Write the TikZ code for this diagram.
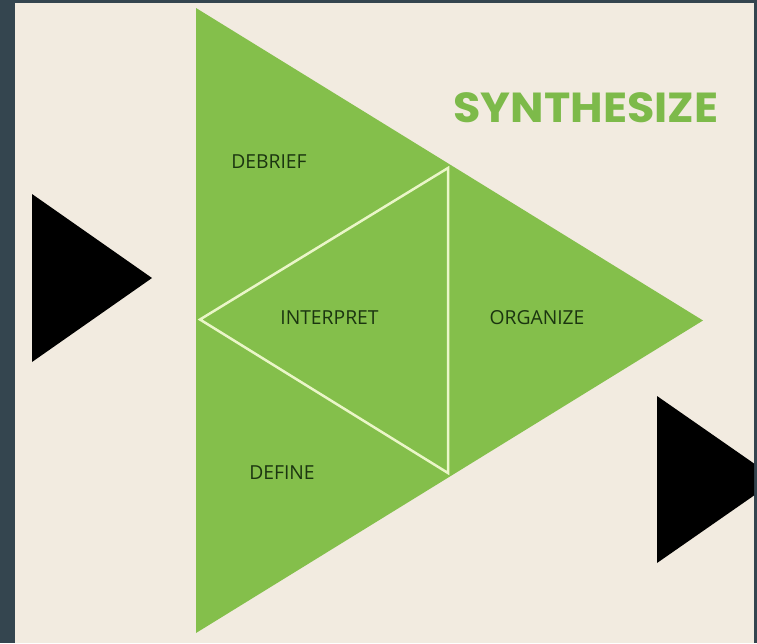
\documentclass[tikz,border=0pt]{standalone}
\usepackage{fontspec}
\setmainfont{Open Sans}
\newfontfamily\headfont{Poppins}
\definecolor{frame}{HTML}{34454F}
\definecolor{cream}{HTML}{F2EBE0}
\definecolor{leaf}{HTML}{84BF4B}
\definecolor{headgreen}{HTML}{7DBA4A}
\definecolor{darkleaf}{HTML}{1B3510}
\definecolor{paleline}{HTML}{EAF6C8}
\tikzset{
  lbl/.style={text=darkleaf, font=\fontsize{19.3}{22}\selectfont, inner sep=0pt},
  head/.style={text=headgreen, font=\headfont\bfseries\fontsize{42}{46}\selectfont, inner sep=0pt},
  inner/.style={draw=paleline, line width=2.5pt, line join=miter}
}
\begin{document}
\begin{tikzpicture}[x=1pt,y=-1pt]
\fill[frame] (0,0) rectangle (757,643);
\useasboundingbox (0,0) rectangle (757,643);
\fill[cream] (15,3) rectangle (754,643);
% black arrows
\fill[black] (32,194) -- (152,278) -- (32,362) -- cycle;
\begin{scope}
\clip (15,3) rectangle (754,643);
\fill[black] (657,396) -- (777,479.5) -- (657,563) -- cycle;
\end{scope}
% big green triangle
\fill[leaf] (196,8) -- (703,320.5) -- (196,633) -- cycle;
% inner triangle
\draw[inner] (200,319.5) -- (448,168) -- (448,473) -- cycle;
% labels
\node[head] (syn) at (586,107.5) {\scalebox{1.06}[1]{SYNTHESIZE}};
\node[lbl] (debrief) at (269,161.5) {DEBRIEF};
\node[lbl] (interp) at (329.5,317.5) {INTERPRET};
\node[lbl] (org) at (537,317.5) {ORGANIZE};
\node[lbl] (def) at (282,472.5) {DEFINE};
\end{tikzpicture}
\end{document}
